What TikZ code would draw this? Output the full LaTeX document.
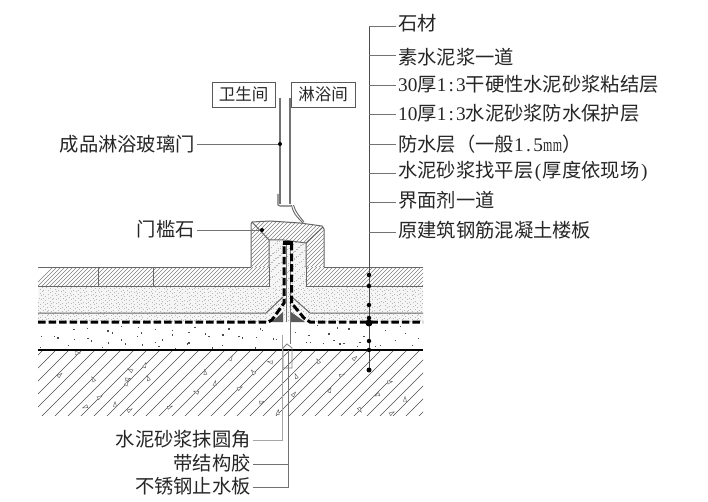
\documentclass[tikz,border=0pt]{standalone}
\usepackage{fontspec}
\usepackage{graphicx}
\setmainfont{Noto Sans CJK SC}
\newfontfamily\latn{Liberation Serif}
\newcommand{\hw}[1]{\makebox[.5em][c]{\latn #1}}
\newcommand{\hwm}{\makebox[.5em][c]{\scalebox{.62}[1]{\latn m}}}
\tikzset{
  lbl/.style={font=\fontsize{19.3pt}{20pt}\selectfont,text=black!85,inner sep=2pt},
  lblw/.style={lbl,anchor=west},
  lble/.style={lbl,anchor=east},
  roomlabel/.style={lbl,font=\fontsize{16.5pt}{18pt}\selectfont,draw=black!65,line width=.8pt,minimum height=25pt,inner sep=0pt},
  leader/.style={draw=black!55,line width=.8pt},
  spine/.style={draw=black!70,line width=.9pt},
  outline/.style={draw=black!60,line width=1pt},
  hatchfine/.style={draw=black!50,line width=.5pt},
  hatchwide/.style={draw=black!70,line width=.65pt},
  wproof/.style={draw=black,line width=3pt,dash pattern=on 7.5pt off 3pt},
  glass/.style={draw=black!55,line width=1.6pt},
  dotk/.style={circle,fill=black,inner sep=0pt,minimum size=5pt},
  aggr/.style={draw=black!60,line width=.45pt,fill=white}
}
\begin{document}
\begin{tikzpicture}[x=1pt,y=-1pt]
\useasboundingbox[fill=white] (0,0) rectangle (708,502);
% stippled screed
\begin{scope}
\clip (38,286)--(269,286)--(269,240)--(283,240)--(306,243)--(306,286)--(423,286)--(423,322)--(38,322)--cycle;
\fill[black!4] (30,235) rectangle (430,325);
\foreach \i in {1,...,1500}{
  \pgfmathsetmacro\ptx{38+385*mod(\i*0.6180339,1)}
  \pgfmathsetmacro\pty{286+36*mod(\i*0.7548777,1)}
  \fill[black!28] (\ptx,\pty) rectangle +(.7,.7);
}
\foreach \i in {1,...,170}{
  \pgfmathsetmacro\ptx{269+37*mod(\i*0.6180339,1)}
  \pgfmathsetmacro\pty{240+46*mod(\i*0.7548777,1)}
  \fill[black!28] (\ptx,\pty) rectangle +(.7,.7);
}
\end{scope}
% aggregate dots
\foreach \zx/\zy in {130/222,170/218,232/226,245/232,272/212,323/215,375/222,425/225,475/230,493/215,32/243,72/243,82/247,132/252,172/248,182/256,233/262,272/253,284/265,320/242,333/232,335/268,375/260,395/253,385/273,425/238,475/262,525/235,535/243,30/275,113/270,215/276,315/282,435/278,470/265,485/282}{
  \fill[black!70] (30+\zx/3,255+\zy/3) rectangle +(1.3,1.3);
}
\foreach \zx/\zy in {15/128,25/138,85/115,67/133,115/138,125/142,167/140,180/115,185/120,218/145,228/147,285/125,325/135,318/155,330/155,368/158,385/130,400/150,418/160,430/158,490/138,478/155,470/168,525/168,410/112,445/115,35/172,65/165,165/172,350/105}{
  \fill[black!70] (200+\zx/3,290+\zy/3) rectangle +(1.3,1.3);
}
\foreach \ptx/\pty in {385/330,395/340,405/333,412/345,380/345,400/326,418/338}{
  \fill[black!70] (\ptx,\pty) rectangle +(1.3,1.3);
}
% stone hatch
\begin{scope}
\clip (38,267) rectangle (269,286) (306,267) rectangle (423,286);
\foreach \k in {30,34,...,430}{\draw[hatchfine] (\k,290)--(\k+30,260);}
\end{scope}
\draw[outline] (38,267)--(251,267) (269,267)--(269,286)--(38,286);
\draw[outline] (324,267)--(423,267) (306,267)--(306,286)--(423,286);
\draw[outline] (98,267)--(98,286) (153,267)--(153,286);
% threshold
\begin{scope}
\clip (251,267)--(251,224)--(252,222)--(270,221)--(300,223)--(322,226)--(324,229)--(324,267)--(306,267)--(306,243)--(283,240)--(269,240)--(269,267)--cycle;
\foreach \k in {210,214,...,330}{\draw[hatchfine] (\k,272)--(\k+60,212);}
\end{scope}
\draw[outline] (251,267)--(251,224)--(252,222)--(270,221)--(300,223)--(322,226)--(324,229)--(324,267);
\draw[outline] (269,267)--(269,240)--(283,240)--(306,243)--(306,267);
\draw[outline] (252,222)--(269,240) (323,227)--(306,243);
% concrete hatch
\begin{scope}
\clip (38,350) rectangle (423,415);
\foreach \k in {-40,-27,...,420}{\draw[hatchwide] (\k,420)--(\k+75,345);}
\end{scope}
\foreach \ax/\ay/\r in {78/353/0,60/375/40,93/379/120,85/407/200,115/404/90,100/397/30,128/379/10,145/365/70,130/370/150,127/383/60,148/378/110,130/410/30,170/407/20,196/392/160,205/372/100,240/388/30,215/383/80,253/372/130,262/402/15,231/358/60,318/361/120,355/358/40,342/375/20,330/390/70,377/395/200,390/382/10,405/399/90,360/410/300,392/413/30,296/376/110,294/394/50,278/412/80,270/362/170}{
  \draw[aggr,rotate around={\r:(\ax,\ay)}] (\ax-2.5,\ay-1.6)--(\ax+2.5,\ay)--(\ax-2.5,\ay+1.6)--cycle;
}
% layer lines
\draw[outline] (38,313)--(266,313)--(283,297) (292,297)--(310,313)--(423,313);
\draw[draw=black,line width=1.1pt] (38,350)--(423,350);
% fillets
\fill[black!65] (272,322)--(283,322)--(283,312)--cycle;
\fill[black!65] (291,322)--(305,322)--(291,312)--cycle;
% waterstop
\draw[draw=black!50,line width=.8pt] (283,368)--(283,348)--(287,344)--(292,348)--(292,368)--cycle;
\draw[draw=black!55,line width=.8pt] (286,244)--(286,322) (290,244)--(290,344);
% waterproofing
\draw[wproof] (38,322)--(268,322)--(272,320)--(284,303)--(284,243);
\draw[wproof] (291.5,243)--(291.5,303)--(304,318)--(310,322)--(423,322);
\fill[black] (282.5,241) rectangle (292.5,245);
% glass door
\draw[glass] (280,98)--(280,204) (290,98)--(290,204);
\draw[draw=black!60,line width=1.1pt] (278,194)--(278,205)--(280,206)--(291,206);
\draw[draw=black!60,line width=.9pt] (291.5,205) .. controls (293,214) and (299,219) .. (303,223);
\draw[draw=black!60,line width=.9pt] (293.5,205) .. controls (295,212) and (301,218) .. (304,222);
% room labels
\node[roomlabel,minimum width=63pt] (wc) at (243.5,94.5) {卫生间};
\node[roomlabel,minimum width=64pt] (sh) at (323,94.5) {淋浴间};
% left labels
\node[lble] (door) at (197,144) {成品淋浴玻璃门};
\node[lble] (sill) at (197,229) {门槛石};
\coordinate (doorpt) at (280,144);
\coordinate (sillpt) at (262,230);
\draw[leader] (door.east |- doorpt)--(doorpt);
\draw[leader] (sill.east |- sillpt)--(sillpt);
\node[dotk,minimum size=4pt] at (doorpt) {};
\node[dotk,minimum size=4pt] at (sillpt) {};
% right labels
\coordinate (sptop) at (369,26);
\coordinate (spbot) at (369,370);
\draw[spine] (sptop)--(spbot);
\node[lblw] (r1) at (396,23) {石材};
\node[lblw] (r2) at (396,57) {素水泥浆一道};
\node[lblw] (r3) at (396,84) {\hw{3}\hw{0}厚\hw{1}\hw{:}\hw{3}干硬性水泥砂浆粘结层};
\node[lblw] (r4) at (396,113) {\hw{1}\hw{0}厚\hw{1}\hw{:}\hw{3}水泥砂浆防水保护层};
\node[lblw] (r5) at (396,144) {防水层（一般\hw{1}\hw{.}\hw{5}\hwm\hwm）};
\node[lblw] (r6) at (396,171) {水泥砂浆找平层\hw{(}厚度依现场\hw{)}};
\node[lblw] (r7) at (396,200) {界面剂一道};
\node[lblw] (r8) at (396,230) {原建筑钢筋混凝土楼板};
\foreach \n/\yy in {r1/26,r2/55,r3/85,r4/114,r5/144,r6/173,r7/202,r8/232}{
  \coordinate (j\n) at (369,\yy);
  \draw[leader] (j\n)--(\n.west |- j\n);
}
\foreach \yy/\s in {275/4.5,286/4.5,305/4.5,318/4.5,323/7,341/4.5,350/4.5,370/5}{
  \node[dotk,minimum size=\s pt] at (369,\yy) {};
}
% bottom labels
\node[lble] (b1) at (253,439) {水泥砂浆抹圆角};
\node[lble] (b2) at (253,463) {带结构胶};
\node[lble] (b3) at (253,486) {不锈钢止水板};
\coordinate (f1) at (282,335);
\coordinate (f2) at (288,350);
\draw[leader,line width=1pt,draw=black!35] (f1)--(f1 |- 0,440)--(b1.east |- 0,440);
\draw[leader] (f2)--(f2 |- 0,487)--(b3.east |- 0,487);
\draw[leader] (f2 |- 0,464)--(b2.east |- 0,464);
\end{tikzpicture}
\end{document}
